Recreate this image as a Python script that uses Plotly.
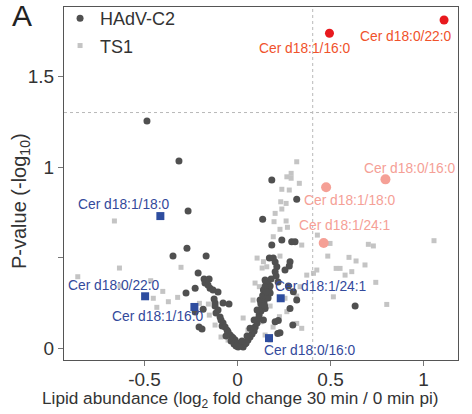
import plotly.graph_objects as go

# ---------------- data ----------------
hadv_x = [-0.487, -0.315, -0.266, -0.272, -0.347, -0.169, -0.212, -0.180, -0.153, -0.175,
          -0.159, -0.148, -0.132, -0.105, -0.228, -0.277, -0.126, -0.121, -0.121, -0.078,
          -0.046, -0.228, -0.185, -0.207, -0.191, -0.094, -0.089, -0.078, -0.083, -0.067,
          -0.056, -0.051, -0.040, -0.030, -0.024, -0.013, -0.003, 0.013, 0.030, 0.003,
          -0.062, -0.035, -0.019, 0.040, -0.008, -0.105, -0.116,
          0.184, 0.318, 0.135, 0.238, 0.291, 0.309, 0.184, 0.171, 0.192, 0.282,
          0.202, 0.211, 0.202, 0.148, 0.207, 0.218, 0.139, 0.273, 0.300, 0.318,
          0.282, 0.148, 0.139, 0.202, 0.297, 0.228, 0.632,
          0.046, 0.056, 0.067, 0.078, 0.089, 0.094, 0.105, 0.110, 0.116, 0.126,
          0.132, 0.142, 0.153, 0.159, 0.169, 0.175, 0.164, 0.153, 0.180, 0.105,
          0.121, 0.164, 0.089, 0.067, 0.051, 0.024, 0.278, 0.255, 0.148, 0.175,
          0.216, 0.219, 0.135, 0.155, 0.125, 0.145]
hadv_y = [1.254, 1.033, 0.757, 0.552, 0.508, 0.508, 0.414, 0.381, 0.381, 0.359,
          0.348, 0.331, 0.320, 0.309, 0.331, 0.304, 0.271, 0.249, 0.232, 0.249,
          0.243, 0.199, 0.215, 0.116, 0.105, 0.171, 0.155, 0.138, 0.122, 0.116,
          0.099, 0.088, 0.072, 0.061, 0.055, 0.044, 0.028, 0.017, 0.006, 0.006,
          0.066, 0.039, 0.022, 0.022, 0.011, 0.210, 0.193,
          0.928, 0.822, 0.711, 0.597, 0.587, 0.587, 0.569, 0.497, 0.497, 0.477,
          0.475, 0.449, 0.422, 0.376, 0.398, 0.365, 0.320, 0.343, 0.311, 0.265,
          0.219, 0.219, 0.155, 0.145, 0.127, 0.085, 0.232,
          0.028, 0.044, 0.061, 0.077, 0.094, 0.116, 0.138, 0.160, 0.182, 0.204,
          0.232, 0.254, 0.276, 0.298, 0.320, 0.343, 0.354, 0.365, 0.381, 0.210,
          0.265, 0.276, 0.155, 0.110, 0.066, 0.039, 0.453, 0.431, 0.340, 0.304,
          0.080, 0.152, 0.290, 0.310, 0.245, 0.235]

ts1_x = [-0.662, -0.635, -0.859, -0.467, -0.402, -0.304, -0.322, -0.372, -0.453, -0.434,
         -0.205, -0.157, -0.152, -0.632,
         0.318, 0.265, 0.288, 0.288, 0.332, 0.238, 0.278, 0.232, 0.261, 0.238,
         0.202, 0.196, 0.261, 0.268, 0.228, 0.192, 0.345, 0.429, 0.497, 0.703,
         0.730, 1.056, 0.485, 0.599, 0.637, 0.685, 0.530, 0.551, 0.614, 0.426,
         0.139, 0.157, 0.372, 0.515, 0.802, 0.743, 0.318, 0.255, 0.175, 0.225,
         0.318, 0.125, 0.265, 0.228, 0.578, 0.408, 0.336, 0.345, 0.117, 0.103,
         0.105, 0.132, 0.094, 0.083, 0.030, 0.056, -0.051, -0.089, -0.121, 0.148,
         0.175, 0.191]
ts1_y = [0.702, 0.442, 0.394, 0.372, 0.313, 0.446, 0.280, 0.256, 0.275, 0.225,
         0.247, 0.243, 0.182, 0.343,
         1.029, 0.946, 0.965, 0.938, 0.910, 0.877, 0.873, 0.808, 0.799, 0.768,
         0.744, 0.698, 0.702, 0.667, 0.656, 0.615, 0.569, 0.624, 0.578, 0.573,
         0.564, 0.593, 0.508, 0.501, 0.481, 0.459, 0.440, 0.440, 0.422, 0.431,
         0.477, 0.449, 0.403, 0.283, 0.241, 0.363, 0.287, 0.275, 0.232, 0.173,
         0.136, 0.145, 0.201, 0.508, 0.403, 0.413, 0.339, 0.109, 0.339, 0.118,
         0.497, 0.442, 0.359, 0.265, 0.166, 0.099, 0.044, 0.061, 0.127, 0.072,
         0.044, 0.116]

sig_up_names = ["Cer d18:1/16:0", "Cer d18:0/22:0"]
sig_up_x = [0.494, 1.110]
sig_up_y = [1.739, 1.812]

up_names = ["Cer d18:0/16:0", "Cer d18:1/18:0", "Cer d18:1/24:1"]
up_x = [0.795, 0.476, 0.463]
up_y = [0.932, 0.888, 0.580]

ts_names = ["Cer d18:1/18:0", "Cer d18:0/22:0", "Cer d18:1/16:0", "Cer d18:1/24:1", "Cer d18:0/16:0"]
ts_x = [-0.415, -0.497, -0.232, 0.232, 0.169]
ts_y = [0.729, 0.286, 0.227, 0.275, 0.055]

p_threshold = 1.301
fc_threshold = 0.404

x_tickvals = [-0.5, 0, 0.5, 1]
x_ticktext = ["-0.5", "0", "0.5", "1"]
y_tickvals = [0, 1, 1.5]
y_ticktext = ["0", "1", "1.5"]
y_minor_tickvals = [0.5]

x_title = "Lipid abundance (log<sub>2</sub> fold change 30 min / 0 min pi)"
y_title = "P-value (-log<sub>10</sub>)"

# ---------------- styling ----------------
FONT = "Liberation Sans, Arial, sans-serif"
DARK = "#505050"
LIGHT = "#c4c4c4"
RED = "#e8191e"
RED_TXT = "#f0522b"
SALMON = "#f5a096"
BLUE = "#2e4d9f"
BLUE_TXT = "#33499b"
TXT = "#333"

fig = go.Figure()

fig.add_trace(go.Scatter(x=ts1_x, y=ts1_y, mode="markers", name="TS1",
                         legendgroup="b",
                         marker=dict(symbol="square", size=5, color=LIGHT),
                         legendrank=2))
fig.add_trace(go.Scatter(x=hadv_x, y=hadv_y, mode="markers", name="HAdV-C2",
                         legendgroup="a",
                         marker=dict(symbol="circle", size=7, color=DARK),
                         legendrank=1))
fig.add_trace(go.Scatter(x=ts_x, y=ts_y, mode="markers", showlegend=False,
                         marker=dict(symbol="square", size=8, color=BLUE)))
fig.add_trace(go.Scatter(x=up_x, y=up_y, mode="markers", showlegend=False,
                         marker=dict(symbol="circle", size=10, color=SALMON)))
fig.add_trace(go.Scatter(x=sig_up_x, y=sig_up_y, mode="markers", showlegend=False,
                         marker=dict(symbol="circle", size=9, color=RED)))

# threshold lines
fig.add_hline(y=p_threshold, line=dict(color="#b8b8b8", width=1, dash="dot"))
fig.add_vline(x=fc_threshold, line=dict(color="#b8b8b8", width=1, dash="dot"))

# point labels
sig_shift = [(-24, -15), (-38, -16)]
up_shift = [(25, 11), (24, -13), (21, 18)]
ts_shift = [(-36, 12), (-31, 11), (-36, -10), (40, 12), (41, -12)]

def add_labels(names, xs, ys, shifts, color):
    for n, x, y, (dx, dy) in zip(names, xs, ys, shifts):
        fig.add_annotation(x=x, y=y, text=n, showarrow=False, xshift=dx, yshift=dy,
                           font=dict(family=FONT, size=13.8, color=color))

add_labels(sig_up_names, sig_up_x, sig_up_y, sig_shift, RED_TXT)
add_labels(up_names, up_x, up_y, up_shift, SALMON)
add_labels(ts_names, ts_x, ts_y, ts_shift, BLUE_TXT)

fig.add_annotation(xref="paper", yref="paper", x=-0.107, y=0.975, text="A",
                   showarrow=False, xanchor="center", yanchor="middle",
                   font=dict(family=FONT, size=30, color="#222"))

# axis titles
fig.add_annotation(xref="paper", yref="paper", x=0.447, y=-0.112, text=x_title,
                   showarrow=False, xanchor="center", yanchor="middle",
                   font=dict(family=FONT, size=17.2, color=TXT))
fig.add_annotation(xref="paper", yref="paper", x=-0.112, y=0.45, text=y_title,
                   showarrow=False, xanchor="center", yanchor="middle", textangle=-90,
                   font=dict(family=FONT, size=20, color=TXT))

axis_common = dict(showline=True, linecolor="#555", linewidth=1, mirror=True,
                   ticks="outside", ticklen=5, tickcolor="#777", showgrid=False,
                   zeroline=False, automargin=False,
                   tickfont=dict(family=FONT, size=19, color=TXT))

fig.update_xaxes(range=[-0.933, 1.185], tickvals=x_tickvals, ticktext=x_ticktext,
                 ticklabelstandoff=-3, **axis_common)
fig.update_yaxes(range=[-0.066, 1.884], tickvals=y_tickvals, ticktext=y_ticktext,
                 minor=dict(tickvals=y_minor_tickvals, ticks="outside", ticklen=5,
                            tickcolor="#777", showgrid=False),
                 **axis_common)

fig.update_layout(
    width=472, height=414,
    margin=dict(l=64, r=14, t=7, b=54, autoexpand=False),
    plot_bgcolor="white", paper_bgcolor="white",
    font=dict(family=FONT, color=TXT),
    legend=dict(x=-0.01, y=1.02, xanchor="left", yanchor="top",
                traceorder="grouped", tracegroupgap=1,
                bgcolor="rgba(0,0,0,0)", font=dict(family=FONT, size=18, color=TXT),
                itemwidth=30),
)

fig.write_html("out.html", config={"displayModeBar": False},
               post_script="document.body.style.margin='0';")
